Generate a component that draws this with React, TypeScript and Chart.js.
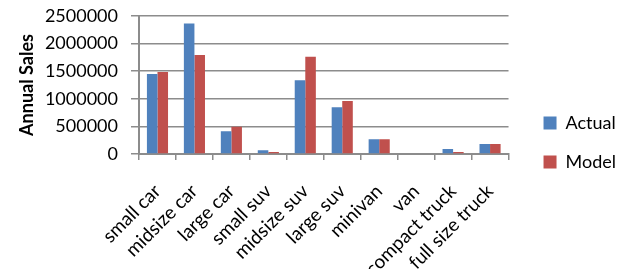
import React, { useEffect, useRef } from "react";
import { Chart, registerables } from "chart.js";

Chart.register(...registerables);

const categories = [
  "small car",
  "midsize car",
  "large car",
  "small suv",
  "midsize suv",
  "large suv",
  "minivan",
  "van",
  "compact truck",
  "full size truck",
];
const actualSales = [1450000, 2365000, 410000, 67000, 1335000, 845000, 266000, 0, 90000, 181000];
const modelSales = [1485000, 1795000, 495000, 36000, 1763000, 960000, 266000, 0, 36000, 181000];
const yTicks = [0, 500000, 1000000, 1500000, 2000000, 2500000];

const FONT = "Lato";
const GRID = "#8c8c8c";

export default function App() {
  const ref = useRef<HTMLCanvasElement | null>(null);

  useEffect(() => {
    document.body.style.margin = "0";
    const canvas = ref.current;
    if (!canvas) return;
    const shiftLegend = {
      id: "shiftLegend",
      afterLayout(chart: any) {
        const lg = chart.legend;
        if (lg) {
          lg.left += 14;
          lg.right += 14;
        }
      },
    };
    const chart = new Chart(canvas, {
      type: "bar",
      data: {
        labels: categories,
        datasets: [
          {
            label: "Actual",
            data: actualSales,
            backgroundColor: "#4F81BD",
            borderWidth: 0,
            categoryPercentage: 2 / 3.5,
            barPercentage: 1,
          },
          {
            label: "Model",
            data: modelSales,
            backgroundColor: "#C0504D",
            borderWidth: 0,
            categoryPercentage: 2 / 3.5,
            barPercentage: 1,
          },
        ],
      },
      options: {
        responsive: false,
        animation: false,
        devicePixelRatio: 1,
        layout: { padding: { top: 16, right: 20, left: 0, bottom: 0 } },
        plugins: {
          tooltip: { enabled: false },
          legend: {
            position: "right",
            align: "center",
            labels: {
              boxWidth: 13,
              boxHeight: 13,
              padding: 21,
              color: "#000",
              font: { family: FONT, size: 18 },
            },
          },
        },
        scales: {
          x: {
            offset: true,
            grid: {
              offset: true,
              drawOnChartArea: false,
              drawTicks: true,
              tickLength: 6,
              color: GRID,
              lineWidth: 1.5,
            },
            border: { display: true, color: GRID, width: 2 },
            ticks: {
              color: "#000",
              font: { family: FONT, size: 19 },
              minRotation: 45,
              maxRotation: 45,
              autoSkip: false,
              padding: 20,
            },
            afterFit(scale: any) {
              scale.height = 115;
            },
          },
          y: {
            min: 0,
            max: 2500000,
            afterBuildTicks(scale: any) {
              scale.ticks = yTicks.map((v) => ({ value: v }));
            },
            grid: {
              color: GRID,
              lineWidth: 1.5,
              drawTicks: true,
              tickLength: 8,
            },
            border: { display: true, color: GRID, width: 2 },
            ticks: {
              color: "#000",
              font: { family: FONT, size: 18 },
              padding: 13,
              callback: (v: any) => String(v),
            },
            title: {
              display: true,
              text: "Annual Sales",
              color: "#000",
              font: { family: FONT, size: 18, weight: "bold" },
              padding: { top: 16, bottom: 4 },
            },
            afterFit(scale: any) {
              scale.width = 139;
              scale.paddingTop = 0;
              scale.paddingBottom = 0;
            },
          },
        },
      },
      plugins: [shiftLegend],
    });
    return () => chart.destroy();
  }, []);

  return (
    <div style={{ position: "absolute", left: 0, top: 0, width: 632, height: 269, background: "#fff" }}>
      <canvas ref={ref} width={632} height={269} />
    </div>
  );
}
